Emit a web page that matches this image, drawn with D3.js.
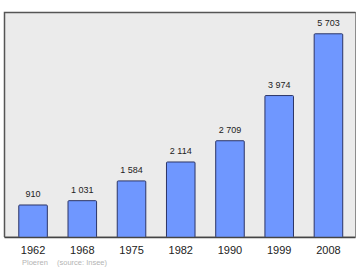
<!DOCTYPE html>
<html>
<head>
<meta charset="utf-8">
<script src="https://cdn.jsdelivr.net/npm/d3@7"></script>
<style>
  body { margin: 0; background: #fff; }
  svg { display: block; font-family: "Liberation Sans", Arial, sans-serif; }
</style>
</head>
<body>
<div id="chart"></div>
<script>
// population by census year
const years = ["1962", "1968", "1975", "1982", "1990", "1999", "2008"]
const population = [910, 1031, 1584, 2114, 2709, 3974, 5703]
const labels = ["910", "1 031", "1 584", "2 114", "2 709", "3 974", "5 703"]
const town = "Ploeren"
const source = "(source: Insee)"

const width = 360, height = 270
const frame = {left: 4.5, top: 12.5, right: 355.5, bottom: 237}

const svg = d3.select("#chart").append("svg")
    .attr("width", width)
    .attr("height", height)

// plot background + frame
svg.append("rect")
    .attr("x", frame.left)
    .attr("y", frame.top)
    .attr("width", frame.right - frame.left)
    .attr("height", frame.bottom - frame.top)
    .attr("fill", "#ebebeb")
    .attr("stroke", "#8c8c8c")
    .attr("stroke-width", 1)
// darker top/left edges
svg.append("path")
    .attr("d", `M${frame.left},${frame.bottom} V${frame.top} H${frame.right}`)
    .attr("fill", "none")
    .attr("stroke", "#555")
    .attr("stroke-width", 1.5)

const x = d3.scaleBand()
    .domain(years)
    .range([4.5, 357])
    .paddingInner(0.42)
    .paddingOuter(0.29)

const y = d3.scaleLinear()
    .domain([0, 6285])
    .range([frame.bottom, frame.top])

const data = years.map((yr, i) => ({year: yr, value: population[i], label: labels[i]}))

svg.selectAll("rect.bar")
    .data(data)
    .enter().append("rect")
    .attr("class", "bar")
    .attr("x", d => x(d.year))
    .attr("y", d => y(d.value) + 0.5)
    .attr("width", x.bandwidth())
    .attr("height", d => y(0) - y(d.value))
    .attr("rx", 1)
    .attr("fill", "#6f97ff")
    .attr("stroke", "#2c3566")
    .attr("stroke-width", 1)

svg.selectAll("text.val")
    .data(data)
    .enter().append("text")
    .attr("class", "val")
    .attr("x", d => x(d.year) + x.bandwidth() / 2)
    .attr("y", d => y(d.value) - 7.5)
    .attr("text-anchor", "middle")
    .attr("font-size", 9)
    .attr("fill", "#222")
    .text(d => d.label)

// baseline
svg.append("line")
    .attr("x1", frame.left)
    .attr("x2", frame.right)
    .attr("y1", frame.bottom + 0.5)
    .attr("y2", frame.bottom + 0.5)
    .attr("stroke", "#444")
    .attr("stroke-width", 1.5)

// year labels
const xAxis = d3.axisBottom(x).tickSize(0).tickPadding(9)
const ax = svg.append("g")
    .attr("transform", `translate(0,${frame.bottom})`)
    .call(xAxis)
ax.select(".domain").remove()
ax.selectAll("text")
    .attr("font-size", 11)
    .attr("font-family", "Liberation Sans, Arial, sans-serif")
    .attr("fill", "#222")

svg.append("text")
    .attr("x", 22)
    .attr("y", 265)
    .attr("font-size", 7.5)
    .attr("fill", "#b4b4b4")
    .text(town)
svg.append("text")
    .attr("x", 57)
    .attr("y", 265)
    .attr("font-size", 7.5)
    .attr("fill", "#b4b4b4")
    .text(source)
</script>
</body>
</html>
